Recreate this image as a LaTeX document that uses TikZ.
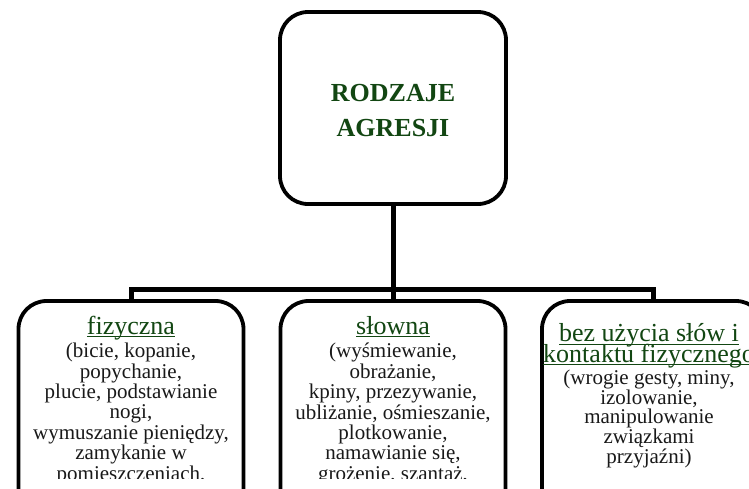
\documentclass[tikz,border=0pt]{standalone}
\usepackage{fontspec}
\setmainfont{Liberation Serif}
\definecolor{hgreen}{RGB}{18,70,18}
\definecolor{bodytxt}{RGB}{25,25,25}
\newcommand\myul[1]{\setbox0\hbox{#1}\rlap{\rule[-3.2pt]{\wd0}{1.2pt}}\box0}
\begin{document}
\begin{tikzpicture}[x=1pt,y=-1pt,
  box/.style={draw=black,line width=3.8pt,rounded corners=28pt,fill=white,inner sep=0pt},
  conn/.style={draw=black,line width=5pt},
  head/.style={inner sep=0pt,align=center,text=hgreen,font=\fontsize{26}{21.5}\selectfont},
  body/.style={inner sep=0pt,align=center,text=bodytxt,font=\fontsize{21}{20.4}\selectfont},
  bodyr/.style={body,font=\fontsize{21}{19.8}\selectfont},
  title/.style={inner sep=0pt,align=center,text=hgreen,font=\fontsize{26}{35}\selectfont\bfseries}]
\useasboundingbox (0,0) rectangle (749,488);
\clip (0,0) rectangle (749,488);
% boxes
\node[box,minimum width=226pt,minimum height=192pt] (top) at (393,108) {};
\node[box,minimum width=225pt,minimum height=240pt] (left) at (131,421) {};
\node[box,minimum width=225pt,minimum height=240pt] (mid) at (393,421) {};
\node[box,minimum width=222pt,minimum height=240pt] (right) at (653,421) {};
% connectors
\coordinate (bus) at (393,289);
\draw[conn] (top.south) -- (bus);
\draw[conn] (bus) -- (mid.north);
\draw[conn] (left.north) -- (left.north |- bus) -- (right.north |- bus) -- (right.north);
% title
\node[title,anchor=base] (t1) at (393,101.7) {RODZAJE};
\node[title,anchor=base] (t2) at (393,136.7) {AGRESJI};
% headings
\node[head,anchor=base] (h1) at (131,334) {\myul{fizyczna}};
\node[head,anchor=base] (h2) at (393,334) {\myul{słowna}};
\node[head,anchor=base] (h3) at (649,341.7) {\myul{bez użycia słów i}};
\node[head,anchor=base] (h4) at (649,362) {\myul{kontaktu fizycznego}};
% body texts, cut at the text frame
\begin{scope}
\clip (0,0) rectangle (749,478);
\node[body,anchor=north] (b1) at (131,343) {(bicie, kopanie,\\popychanie,\\plucie, podstawianie\\nogi,\\wymuszanie pieniędzy,\\zamykanie w\\pomieszczeniach,};
\node[body,anchor=north] (b2) at (393,343) {(wyśmiewanie,\\obrażanie,\\kpiny, przezywanie,\\ubliżanie, ośmieszanie,\\plotkowanie,\\namawianie się,\\grożenie, szantaż,};
\end{scope}
\node[bodyr,anchor=north] (b3) at (649,369.5) {(wrogie gesty, miny,\\izolowanie,\\manipulowanie\\związkami\\przyjaźni)};
\end{tikzpicture}
\end{document}
